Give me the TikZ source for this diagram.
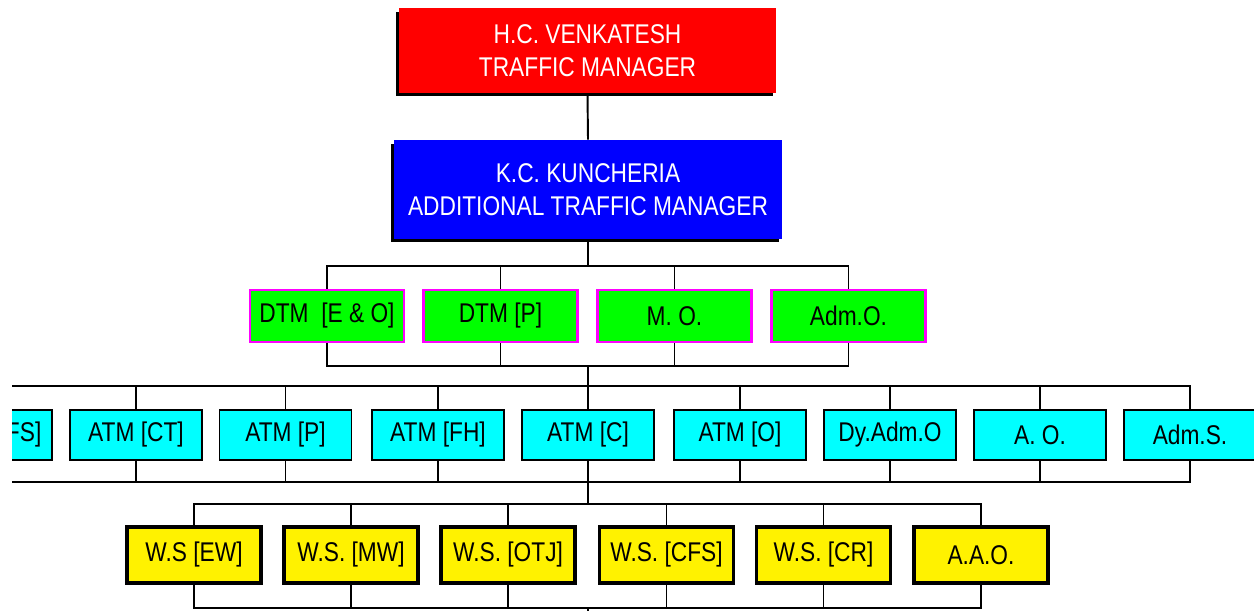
\documentclass[tikz,border=0pt]{standalone}
\usepackage{fontspec}
\setmainfont{Liberation Sans}[FakeStretch=0.84]
\usepackage{tikz}
\usepackage{xcolor}
\usetikzlibrary{shadows}
\definecolor{aqua}{rgb}{0,1,1}
\definecolor{lime}{rgb}{0,1,0}
\definecolor{pink}{rgb}{1,0,1}

\begin{document}
\begin{tikzpicture}[x=0.02cm,y=-0.02cm]
\tikzstyle{every node}+=[inner sep=0pt,align=center,font=\fontsize{15.4}{18.5}\selectfont]
\tikzstyle{headbox}=[rectangle,text=white,drop shadow={shadow xshift=-0.06cm,shadow yshift=-0.07cm,fill=black,opacity=1}]
\tikzstyle{dtmbox}=[rectangle,draw=pink,fill=lime,line width=1.5pt,minimum width=3.08cm,minimum height=1.04cm]
\tikzstyle{atmbox}=[rectangle,draw=black,fill=aqua,line width=1.1pt,minimum width=2.64cm,minimum height=1cm]
\tikzstyle{wsbox}=[rectangle,draw=black,fill=yellow,line width=2.2pt,minimum width=2.68cm,minimum height=1.12cm]
\tikzstyle{wire}=[black,line width=1.1pt]
\useasboundingbox (0,0) rectangle (1254,611);
\clip (12,0) rectangle (1254,611);
% heads
\node [headbox,fill=red,minimum width=7.54cm,minimum height=1.7cm] (tmgr) at (587.5,50.5) {H.C. VENKATESH\\TRAFFIC MANAGER};
\node [headbox,fill=blue,minimum width=7.76cm,minimum height=1.98cm] (atmgr) at (588,189.5) {K.C. KUNCHERIA\\ADDITIONAL TRAFFIC MANAGER};
% DTM level
\node [dtmbox] (dtmeo) at (327,316) {DTM\ \ [E \& O]};
\node [dtmbox] (dtmp) at (500.5,316) {DTM [P]};
\node [dtmbox] (mo) at (674.5,316) {M. O.};
\node [dtmbox] (admo) at (848.5,316) {Adm.O.};
% ATM level
\node [atmbox] (atmcfs) at (-14,435) {ATM [CFS]};
\node [atmbox] (atmct) at (136,435) {ATM [CT]};
\node [atmbox] (atmp) at (285.5,435) {ATM [P]};
\node [atmbox] (atmfh) at (438,435) {ATM [FH]};
\node [atmbox] (atmc) at (588,435) {ATM [C]};
\node [atmbox] (atmo) at (740,435) {ATM [O]};
\node [atmbox] (dyadmo) at (890,435) {Dy.Adm.O};
\node [atmbox] (ao) at (1040,435) {A. O.};
\node [atmbox] (adms) at (1190,435) {Adm.S.};
% W.S. level
\node [wsbox] (wsew) at (194,555) {W.S [EW]};
\node [wsbox] (wsmw) at (351,555) {W.S. [MW]};
\node [wsbox] (wsotj) at (508,555) {W.S. [OTJ]};
\node [wsbox] (wscfs) at (666.5,555) {W.S. [CFS]};
\node [wsbox] (wscr) at (823.5,555) {W.S. [CR]};
\node [wsbox] (aao) at (981,555) {A.A.O.};
% junctions
\coordinate (j0) at (588,266);
\coordinate (j1) at (588,366);
\coordinate (j2) at (588,386);
\coordinate (j3) at (588,482);
\coordinate (j4) at (588,504);
\coordinate (j5) at (588,608);
\coordinate (j6) at (588,620);
% lines
\draw [wire] (tmgr.south) -- (atmgr.north);
\draw [wire] (atmgr.south) -- (j0);
\draw [wire] (j0) -| (dtmeo.north);
\draw [wire] (j0) -| (dtmp.north);
\draw [wire] (j0) -| (mo.north);
\draw [wire] (j0) -| (admo.north);
\draw [wire] (dtmeo.south) |- (j1);
\draw [wire] (dtmp.south) |- (j1);
\draw [wire] (mo.south) |- (j1);
\draw [wire] (admo.south) |- (j1);
\draw [wire] (j1) -- (j2);
\draw [wire] (j2) -| (atmcfs.north);
\draw [wire] (j2) -| (atmct.north);
\draw [wire] (j2) -| (atmp.north);
\draw [wire] (j2) -| (atmfh.north);
\draw [wire] (j2) -- (atmc.north);
\draw [wire] (j2) -| (atmo.north);
\draw [wire] (j2) -| (dyadmo.north);
\draw [wire] (j2) -| (ao.north);
\draw [wire] (j2) -| (adms.north);
\draw [wire] (atmcfs.south) |- (j3);
\draw [wire] (atmct.south) |- (j3);
\draw [wire] (atmp.south) |- (j3);
\draw [wire] (atmfh.south) |- (j3);
\draw [wire] (atmc.south) -- (j3);
\draw [wire] (atmo.south) |- (j3);
\draw [wire] (dyadmo.south) |- (j3);
\draw [wire] (ao.south) |- (j3);
\draw [wire] (adms.south) |- (j3);
\draw [wire] (j3) -- (j4);
\draw [wire] (j4) -| (wsew.north);
\draw [wire] (j4) -| (wsmw.north);
\draw [wire] (j4) -| (wsotj.north);
\draw [wire] (j4) -| (wscfs.north);
\draw [wire] (j4) -| (wscr.north);
\draw [wire] (j4) -| (aao.north);
\draw [wire] (wsew.south) |- (j5);
\draw [wire] (wsmw.south) |- (j5);
\draw [wire] (wsotj.south) |- (j5);
\draw [wire] (wscfs.south) |- (j5);
\draw [wire] (wscr.south) |- (j5);
\draw [wire] (aao.south) |- (j5);
\draw [wire] (j5) -- (j6);
\end{tikzpicture}
\end{document}
